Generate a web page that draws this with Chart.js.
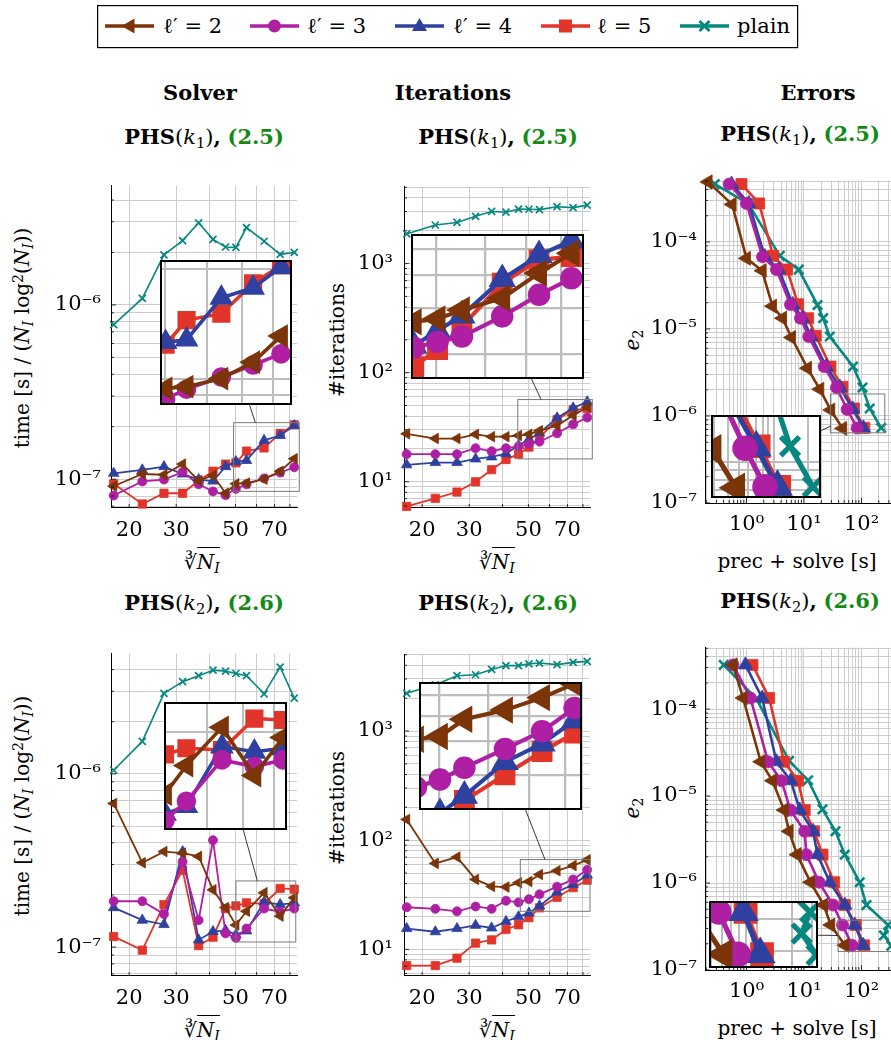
<!DOCTYPE html>
<html><head><meta charset="utf-8">
<script src="https://cdn.jsdelivr.net/npm/chart.js@4.4.1/dist/chart.umd.min.js"></script>
<style>
html,body{margin:0;padding:0;background:#fff;}
#fig{position:relative;width:891px;height:1040px;overflow:hidden;font-family:"DejaVu Serif",serif;color:#000;}
.t{position:absolute;white-space:nowrap;transform:translate(-50%,-50%);line-height:1;}
.hdr{font-weight:bold;font-size:21px;}
.ttl{font-size:21px;}
.g{color:#138a13;font-weight:bold;}
.ax{font-size:20px;}
.rot{transform:translate(-50%,-50%) rotate(-90deg);}
sub{font-size:0.7em;vertical-align:-0.3em;line-height:0;}
sup{font-size:0.7em;vertical-align:0.45em;line-height:0;}
.ovl{border-top:1.4px solid #000;padding-top:2px;}
canvas{position:absolute;}
canvas.inset{background:#fff;outline:2px solid #000;outline-offset:-1px;}
#legend{position:absolute;left:97px;top:5px;}
</style></head>
<body>
<div id="fig">
  <svg id="legend" width="702" height="44" xmlns="http://www.w3.org/2000/svg"></svg>

  <div class="t hdr" style="left:200px;top:92px">Solver</div>
  <div class="t hdr" style="left:453px;top:92px">Iterations</div>
  <div class="t hdr" style="left:818px;top:92px">Errors</div>

  <div class="t ttl" style="left:204px;top:137px"><b>PHS</b>(<i>k</i><sub>1</sub>)<b>,</b> <span class="g">(2.5)</span></div>
  <div class="t ttl" style="left:498px;top:137px"><b>PHS</b>(<i>k</i><sub>1</sub>)<b>,</b> <span class="g">(2.5)</span></div>
  <div class="t ttl" style="left:800px;top:134px"><b>PHS</b>(<i>k</i><sub>1</sub>)<b>,</b> <span class="g">(2.5)</span></div>
  <div class="t ttl" style="left:204px;top:603px"><b>PHS</b>(<i>k</i><sub>2</sub>)<b>,</b> <span class="g">(2.6)</span></div>
  <div class="t ttl" style="left:498px;top:603px"><b>PHS</b>(<i>k</i><sub>2</sub>)<b>,</b> <span class="g">(2.6)</span></div>
  <div class="t ttl" style="left:800px;top:601px"><b>PHS</b>(<i>k</i><sub>2</sub>)<b>,</b> <span class="g">(2.6)</span></div>

  <div class="t ax rot" style="left:22px;top:338px">time [s] / (<i>N</i><sub><i>I</i></sub> log<sup>2</sup>(<i>N</i><sub><i>I</i></sub>))</div>
  <div class="t ax rot" style="left:337px;top:340px">#iterations</div>
  <div class="t ax rot" style="left:632px;top:340px"><i>e</i><sub>2</sub></div>
  <div class="t ax rot" style="left:22px;top:806px">time [s] / (<i>N</i><sub><i>I</i></sub> log<sup>2</sup>(<i>N</i><sub><i>I</i></sub>))</div>
  <div class="t ax rot" style="left:337px;top:808px">#iterations</div>
  <div class="t ax rot" style="left:632px;top:808px"><i>e</i><sub>2</sub></div>

  <div class="t ax" style="left:202px;top:562px">∛<span class="ovl"><i>N</i><sub><i>I</i></sub></span></div>
  <div class="t ax" style="left:497px;top:562px">∛<span class="ovl"><i>N</i><sub><i>I</i></sub></span></div>
  <div class="t ax" style="left:797px;top:561px">prec + solve [s]</div>
  <div class="t ax" style="left:202px;top:1030px">∛<span class="ovl"><i>N</i><sub><i>I</i></sub></span></div>
  <div class="t ax" style="left:497px;top:1030px">∛<span class="ovl"><i>N</i><sub><i>I</i></sub></span></div>
  <div class="t ax" style="left:797px;top:1028px">prec + solve [s]</div>
</div>
<script>
// ================= DATA =================
const NI_CBRT = [17.5, 22.4, 27.0, 31.7, 36.4, 41.2, 45.9, 50.2, 55.0, 64.0, 73.5, 83.0];
const NI_TICKS = [20, 30, 40, 50, 60, 70, 80];
const NI_TICK_LABELS = ['20', '30', '', '50', '', '70', ''];

const SERIES_LABELS = ['ℓ′ = 2', 'ℓ′ = 3', 'ℓ′ = 4', 'ℓ = 5', 'plain'];

// Solver, PHS(k1)
const SOLVER_K1_L2    = [9.1e-8, 1.07e-7, 1.06e-7, 1.22e-7, 9.8e-8, 1.05e-7, 8.3e-8, 9.4e-8, 9.5e-8, 1.0e-7, 1.11e-7, 1.31e-7];
const SOLVER_K1_L3    = [8.05e-8, 9.7e-8, 9.95e-8, 1.10e-7, 9.35e-8, 8.5e-8, 8.1e-8, 8.8e-8, 9.35e-8, 1.01e-7, 1.09e-7, 1.17e-7];
const SOLVER_K1_L4    = [1.08e-7, 1.13e-7, 1.18e-7, 1.07e-7, 9.95e-8, 9.75e-8, 1.18e-7, 1.26e-7, 1.28e-7, 1.67e-7, 1.78e-7, 2.03e-7];
const SOLVER_K1_L5    = [9.4e-8, 7.2e-8, 8.3e-8, 8.3e-8, 9.8e-8, 1.11e-7, 1.22e-7, 1.24e-7, 1.45e-7, 1.51e-7, 1.83e-7, 2.05e-7];
const SOLVER_K1_PLAIN = [7.7e-7, 1.09e-6, 1.94e-6, 2.34e-6, 2.96e-6, 2.38e-6, 2.15e-6, 2.14e-6, 2.78e-6, 2.32e-6, 1.95e-6, 2.0e-6];

// Iterations, PHS(k1)
const ITER_K1_L2    = [27.5, 24.9, 24.9, 27.2, 25.9, 25.9, 26.5, 27.2, 29.4, 32.6, 40.6, 48.3];
const ITER_K1_L3    = [17.9, 17.9, 17.9, 20.3, 19.0, 20.3, 21.1, 22.2, 23.3, 27.8, 33.6, 38.8];
const ITER_K1_L4    = [14.3, 15.0, 15.0, 16.2, 16.9, 18.1, 21.5, 24.5, 28.0, 38.5, 47.5, 54.0];
const ITER_K1_L5    = [5.95, 7.05, 8.05, 10.0, 12.9, 16.0, 17.9, 20.8, 25.4, 37.2, 45.6, 46.9];
const ITER_K1_PLAIN = [1871, 2259, 2383, 2715, 3006, 2959, 3163, 3150, 3126, 3324, 3258, 3436];

// Errors, PHS(k1): x = prec + solve [s], y = e2
const ERR_K1_X_L2    = [0.215, 0.562, 1.0, 1.87, 2.83, 4.23, 6.06, 11.5, 18.8, 29.2, 47.0];
const ERR_K1_Y_L2    = [4.9e-4, 2.70e-4, 6.48e-5, 4.68e-5, 1.83e-5, 1.33e-5, 7.98e-6, 3.54e-6, 2.03e-6, 1.17e-6, 7.2e-7];
const ERR_K1_X_L3    = [0.499, 1.0, 1.90, 3.32, 5.82, 8.69, 12.1, 22.4, 36.7, 56.2, 84.0];
const ERR_K1_Y_L3    = [4.62e-4, 2.77e-4, 6.76e-5, 4.81e-5, 1.91e-5, 1.33e-5, 8.19e-6, 3.70e-6, 2.12e-6, 1.19e-6, 7.29e-7];
const ERR_K1_X_L4    = [0.55, 1.10, 2.08, 3.65, 6.38, 9.53, 13.3, 24.5, 42.2, 70.5, 108];
const ERR_K1_Y_L4    = [4.62e-4, 2.77e-4, 6.8e-5, 4.81e-5, 1.91e-5, 1.33e-5, 8.2e-6, 3.70e-6, 2.14e-6, 1.2e-6, 7.29e-7];
const ERR_K1_X_L5    = [0.818, 1.66, 2.90, 5.10, 7.90, 11.8, 16.0, 28.9, 46.7, 74.0, 112];
const ERR_K1_Y_L5    = [4.62e-4, 2.77e-4, 6.93e-5, 4.81e-5, 1.92e-5, 1.33e-5, 8.34e-6, 3.70e-6, 2.16e-6, 1.22e-6, 7.29e-7];
const ERR_K1_X_PLAIN = [0.281, 1.07, 3.80, 8.12, 17.2, 21.5, 28.1, 71.4, 104, 139, 220];
const ERR_K1_Y_PLAIN = [4.62e-4, 2.77e-4, 6.93e-5, 4.81e-5, 1.88e-5, 1.33e-5, 8.19e-6, 3.70e-6, 2.12e-6, 1.22e-6, 7.29e-7];

// Solver, PHS(k2)
const SOLVER_K2_L2    = [6.75e-7, 3.07e-7, 3.56e-7, 3.49e-7, 3.34e-7, 2.14e-7, 1.69e-7, 1.34e-7, 1.61e-7, 2.06e-7, 1.51e-7, 1.93e-7];
const SOLVER_K2_L3    = [1.84e-7, 1.84e-7, 1.55e-7, 3.11e-7, 1.43e-7, 4.14e-7, 1.20e-7, 1.13e-7, 1.28e-7, 1.67e-7, 1.60e-7, 1.67e-7];
const SOLVER_K2_L4    = [1.69e-7, 1.43e-7, 1.35e-7, 3.56e-7, 1.10e-7, 1.23e-7, 1.25e-7, 1.18e-7, 1.24e-7, 1.82e-7, 1.76e-7, 1.80e-7];
const SOLVER_K2_L5    = [1.15e-7, 9.6e-8, 1.76e-7, 2.78e-7, 1.02e-7, 1.14e-7, 1.67e-7, 1.73e-7, 1.80e-7, 1.78e-7, 2.18e-7, 2.16e-7];
const SOLVER_K2_PLAIN = [1.05e-6, 1.54e-6, 2.92e-6, 3.41e-6, 3.69e-6, 3.97e-6, 3.92e-6, 3.80e-6, 3.69e-6, 2.90e-6, 4.14e-6, 2.74e-6];

// Iterations, PHS(k2)
const ITER_K2_L2    = [155, 61.3, 70.0, 43.7, 37.7, 37.2, 40.8, 41.8, 48.5, 52.5, 58.5, 66.0];
const ITER_K2_L3    = [24.3, 23.5, 22.3, 24.7, 23.5, 27.9, 26.9, 28.8, 31.9, 37.5, 43.7, 53.5];
const ITER_K2_L4    = [15.5, 14.5, 15.5, 16.6, 15.7, 18.0, 19.9, 21.5, 25.0, 33.5, 39.3, 48.0];
const ITER_K2_L5    = [7.1, 7.1, 8.3, 11.4, 12.2, 15.2, 16.8, 19.5, 24.0, 30.0, 36.7, 43.0];
const ITER_K2_PLAIN = [2213, 2654, 3210, 3275, 3667, 3974, 3974, 4120, 4195, 4055, 4256, 4345];

// Errors, PHS(k2)
const ERR_K2_X_L2    = [0.585, 0.873, 1.77, 2.83, 4.51, 5.51, 7.59, 13.0, 22.1, 29.2, 51.3];
const ERR_K2_X_L3    = [0.585, 1.17, 2.38, 4.06, 5.82, 10.3, 11.0, 18.3, 32.1, 46.7, 68.7];
const ERR_K2_X_L4    = [0.96, 1.87, 3.32, 5.89, 8.45, 14.4, 17.2, 28.1, 51.3, 76.5, 107];
const ERR_K2_X_L5    = [1.27, 2.48, 4.51, 7.90, 10.3, 15.0, 21.0, 33.4, 51.3, 79.6, 111];
const ERR_K2_Y       = [3.22e-4, 1.34e-4, 2.48e-5, 1.50e-5, 6.9e-6, 3.93e-6, 2.12e-6, 1.02e-6, 5.58e-7, 3.29e-7, 1.92e-7];
const ERR_K2_X_PLAIN = [0.403, 1.49, 5.51, 11.8, 21.0, 35.3, 51.3, 93.3, 122, 290, 245, 330];
const ERR_K2_Y_PLAIN = [3.22e-4, 1.31e-4, 2.54e-5, 1.52e-5, 7.04e-6, 3.93e-6, 2.12e-6, 1.02e-6, 5.58e-7, 3.29e-7, 2.5e-7, 1.9e-7];

// ================= STYLE / LAYOUT =================
const COLORS = ['#7b3508', '#ae1fa3', '#2f41a0', '#e2352a', '#06877f'];
const STYLES = [
  {style:'triangle', rot:270, rf:1.35},
  {style:'circle',   rot:0,   rf:1.0},
  {style:'triangle', rot:0,   rf:1.35},
  {style:'rect',     rot:0,   rf:1.3},
  {style:'crossRot', rot:0,   rf:1.1}
];
const SIZE_LM = {r:4.5, lw:1.8, plw:1.6, cw:1.7};
const SIZE_R  = {r:6.0, lw:2.6, plw:2.6, cw:2.6};
const GRID = '#cdcdcd';
const Y_AXIS_W = 80, X_AXIS_H = 60, PAD = 10;
const TICK_FONT = {family:'DejaVu Serif', size:21};

const SUP = {'-':'⁻','0':'⁰','1':'¹','2':'²','3':'³','4':'⁴','5':'⁵','6':'⁶','7':'⁷','8':'⁸','9':'⁹'};
function isDecade(v){ const e = Math.log10(v); return Math.abs(e - Math.round(e)) < 1e-6; }
function decadeLabel(v){ if(!isDecade(v)) return ''; return '10' + String(Math.round(Math.log10(v))).split('').map(c=>SUP[c]).join(''); }
function logGrid(min, max){
  const out = [];
  for(let k = Math.floor(Math.log10(min)); k <= Math.ceil(Math.log10(max)); k++)
    for(let m = 1; m <= 9; m++){ const v = m * Math.pow(10, k); if(v >= min*0.99999 && v <= max*1.00001) out.push(v); }
  return out;
}

function makeDatasets(xs, ys, size, mag, clip){
  return ys.map((yArr, i) => {
    const st = STYLES[i], plain = (i === 4);
    return {
      label: SERIES_LABELS[i],
      data: xs[i].map((x, j) => ({x, y: yArr[j]})),
      borderColor: COLORS[i], backgroundColor: COLORS[i],
      pointBackgroundColor: COLORS[i], pointBorderColor: COLORS[i],
      pointStyle: st.style, pointRotation: st.rot,
      pointRadius: size.r * st.rf * mag, pointHoverRadius: size.r * st.rf * mag,
      pointBorderWidth: (plain ? size.cw : 0.8) * mag,
      borderWidth: (plain ? size.plw : size.lw) * mag,
      tension: 0, fill: false, clip: clip
    };
  });
}

const spyPlugin = {
  id: 'spy',
  afterDatasetsDraw(chart, args, o){
    if(!o || !o.box) return;
    const xs = chart.scales.x, ys = chart.scales.y, ctx = chart.ctx;
    const x0 = xs.getPixelForValue(o.box[0]), x1 = xs.getPixelForValue(o.box[1]);
    const y0 = ys.getPixelForValue(o.box[3]), y1 = ys.getPixelForValue(o.box[2]);
    ctx.save();
    ctx.strokeStyle = '#7a7a7a'; ctx.lineWidth = 1;
    ctx.strokeRect(x0, y0, x1 - x0, y1 - y0);
    const il = o.inset.left - o.cl, it = o.inset.top - o.ct;
    const c1 = [(x0 + x1) / 2, (y0 + y1) / 2], c2 = [il + o.inset.width / 2, it + o.inset.height / 2];
    ctx.beginPath();
    ctx.rect(-50, -50, chart.width + 100, chart.height + 100);
    ctx.rect(x0, y0, x1 - x0, y1 - y0);
    ctx.clip('evenodd');
    ctx.beginPath(); ctx.moveTo(c1[0], c1[1]); ctx.lineTo(c2[0], c2[1]);
    ctx.strokeStyle = '#222'; ctx.lineWidth = 0.9; ctx.stroke();
    ctx.restore();
  }
};
const tickMarkPlugin = {
  id: 'tickMarks',
  afterDraw(chart){
    const {ctx, chartArea:a} = chart; const xs = chart.scales.x, ys = chart.scales.y;
    ctx.save(); ctx.strokeStyle = '#000'; ctx.lineWidth = 0.8; ctx.beginPath();
    ys.ticks.forEach(t => { const p = ys.getPixelForValue(t.value); const L = isDecade(t.value) ? 5 : 3; ctx.moveTo(a.left, p); ctx.lineTo(a.left + L, p); });
    xs.ticks.forEach(t => { const p = xs.getPixelForValue(t.value); const L = isDecade(t.value) ? 5 : 3; ctx.moveTo(p, a.bottom); ctx.lineTo(p, a.bottom - L); });
    ctx.stroke(); ctx.restore();
  }
};

const fig = document.getElementById('fig');

function panel(p){
  const cw = Y_AXIS_W + p.area.W + PAD, ch = PAD + p.area.H + X_AXIS_H;
  const cl = p.area.L - Y_AXIS_W, ct = p.area.T - PAD;
  const c = document.createElement('canvas');
  c.width = cw; c.height = ch;
  c.style.left = cl + 'px'; c.style.top = ct + 'px'; c.style.width = cw + 'px'; c.style.height = ch + 'px';
  fig.appendChild(c);
  const yTickVals = logGrid(p.yr[0], p.yr[1]);
  const xTickVals = p.xTicks ? p.xTicks : logGrid(p.xr[0], p.xr[1]);
  const xLabel = p.xTicks ? ((v, i) => p.xLabels[i]) : (v => decadeLabel(v));
  new Chart(c, {
    type: 'line',
    data: {datasets: makeDatasets(p.xs, p.ys, p.size, 1, 7)},
    plugins: [spyPlugin, tickMarkPlugin],
    options: {
      responsive: false, animation: false, devicePixelRatio: 1, events: [],
      layout: {autoPadding: false, padding: {top: PAD, right: PAD, left: 0, bottom: 0}},
      plugins: {legend: {display: false}, tooltip: {enabled: false},
        spy: {box: p.spy, inset: p.inset, cl: cl, ct: ct}},
      scales: {
        x: {type: 'logarithmic', min: p.xr[0], max: p.xr[1], bounds: 'data', position: 'bottom',
          afterBuildTicks: s => { s.ticks = xTickVals.map(v => ({value: v})); },
          afterFit: s => { s.height = X_AXIS_H; },
          ticks: {autoSkip: false, maxRotation: 0, minRotation: 0, padding: p.xPad, color: '#000', font: TICK_FONT, callback: xLabel},
          grid: {color: GRID, lineWidth: 1, drawTicks: false},
          border: {display: true, color: '#000', width: 1}},
        y: {type: 'logarithmic', min: p.yr[0], max: p.yr[1], bounds: 'data', position: 'left',
          afterBuildTicks: s => { s.ticks = yTickVals.map(v => ({value: v})); },
          afterFit: s => { s.width = Y_AXIS_W; },
          ticks: {autoSkip: false, padding: p.yPad, color: '#000', font: TICK_FONT, callback: v => decadeLabel(v)},
          grid: {color: GRID, lineWidth: 1, drawTicks: false},
          border: {display: true, color: '#000', width: 1}}
      }
    }
  });
  // magnified inset of the spy region
  const ins = document.createElement('canvas'); const I = p.inset;
  ins.className = 'inset'; ins.width = I.width; ins.height = I.height;
  ins.style.left = I.left + 'px'; ins.style.top = I.top + 'px'; ins.style.width = I.width + 'px'; ins.style.height = I.height + 'px';
  fig.appendChild(ins);
  const ixT = p.xTicks ? p.xTicks : logGrid(p.spy[0] / 10, p.spy[1] * 10);
  const iyT = logGrid(p.spy[2] / 10, p.spy[3] * 10);
  new Chart(ins, {
    type: 'line',
    data: {datasets: makeDatasets(p.xs, p.ys, p.size, p.mag, false)},
    options: {
      responsive: false, animation: false, devicePixelRatio: 1, events: [],
      layout: {autoPadding: false, padding: 0},
      plugins: {legend: {display: false}, tooltip: {enabled: false}},
      scales: {
        x: {type: 'logarithmic', min: p.spy[0], max: p.spy[1], bounds: 'data',
          afterBuildTicks: s => { s.ticks = ixT.map(v => ({value: v})); },
          afterFit: s => { s.height = 0; },
          ticks: {display: false, autoSkip: false},
          grid: {color: '#bdbdbd', lineWidth: p.mag, drawTicks: false}, border: {display: false}},
        y: {type: 'logarithmic', min: p.spy[2], max: p.spy[3], bounds: 'data',
          afterBuildTicks: s => { s.ticks = iyT.map(v => ({value: v})); },
          afterFit: s => { s.width = 0; },
          ticks: {display: false, autoSkip: false},
          grid: {color: '#bdbdbd', lineWidth: p.mag, drawTicks: false}, border: {display: false}}
      }
    }
  });
}

const NI5 = [NI_CBRT, NI_CBRT, NI_CBRT, NI_CBRT, NI_CBRT];
const NI_RANGE = [17.1, 85.0];
const ERR_X_RANGE = [0.19, 326];

panel({area:{L:111,T:173,W:186,H:334}, xr:NI_RANGE, yr:[6.92e-8, 4.84e-6], xTicks:NI_TICKS, xLabels:NI_TICK_LABELS,
  xs:NI5, ys:[SOLVER_K1_L2, SOLVER_K1_L3, SOLVER_K1_L4, SOLVER_K1_L5, SOLVER_K1_PLAIN], size:SIZE_LM, yPad:10, xPad:11,
  spy:[49.2, 86.7, 8.51e-8, 2.11e-7], inset:{left:161, top:261, width:130, height:143}, mag:2});
panel({area:{L:404,T:173,W:186,H:334}, xr:NI_RANGE, yr:[5.87, 5080], xTicks:NI_TICKS, xLabels:NI_TICK_LABELS,
  xs:NI5, ys:[ITER_K1_L2, ITER_K1_L3, ITER_K1_L4, ITER_K1_L5, ITER_K1_PLAIN], size:SIZE_LM, yPad:11, xPad:11,
  spy:[45.6, 86.7, 16.2, 56.7], inset:{left:412, top:235, width:171, height:143}, mag:2.3});
panel({area:{L:705,T:170,W:186,H:333}, xr:ERR_X_RANGE, yr:[1e-7, 5.07e-4], xTicks:null,
  xs:[ERR_K1_X_L2, ERR_K1_X_L3, ERR_K1_X_L4, ERR_K1_X_L5, ERR_K1_X_PLAIN],
  ys:[ERR_K1_Y_L2, ERR_K1_Y_L3, ERR_K1_Y_L4, ERR_K1_Y_L5, ERR_K1_Y_PLAIN], size:SIZE_R, yPad:8, xPad:9,
  spy:[28.9, 254, 6.41e-7, 1.79e-6], inset:{left:712, top:416, width:108, height:81}, mag:2});
panel({area:{L:111,T:641,W:186,H:334}, xr:NI_RANGE, yr:[6.9e-8, 4.95e-6], xTicks:NI_TICKS, xLabels:NI_TICK_LABELS,
  xs:NI5, ys:[SOLVER_K2_L2, SOLVER_K2_L3, SOLVER_K2_L4, SOLVER_K2_L5, SOLVER_K2_PLAIN], size:SIZE_LM, yPad:10, xPad:11,
  spy:[50.2, 84.1, 1.07e-7, 2.41e-7], inset:{left:165, top:703, width:121, height:126}, mag:2});
panel({area:{L:404,T:641,W:186,H:334}, xr:NI_RANGE, yr:[5.82, 5012], xTicks:NI_TICKS, xLabels:NI_TICK_LABELS,
  xs:NI5, ys:[ITER_K2_L2, ITER_K2_L3, ITER_K2_L4, ITER_K2_L5, ITER_K2_PLAIN], size:SIZE_LM, yPad:11, xPad:11,
  spy:[46.6, 85.0, 22.3, 66.4], inset:{left:420, top:683, width:161, height:126}, mag:2.3});
panel({area:{L:705,T:637,W:186,H:333}, xr:ERR_X_RANGE, yr:[1e-7, 5.09e-4], xTicks:null,
  xs:[ERR_K2_X_L2, ERR_K2_X_L3, ERR_K2_X_L4, ERR_K2_X_L5, ERR_K2_X_PLAIN],
  ys:[ERR_K2_Y, ERR_K2_Y, ERR_K2_Y, ERR_K2_Y, ERR_K2_Y_PLAIN], size:SIZE_R, yPad:8, xPad:9,
  spy:[39.2, 333, 1.63e-7, 3.74e-7], inset:{left:710, top:902, width:107, height:65}, mag:2});

// ================= LEGEND =================
(function(){
  const svg = document.getElementById('legend');
  const lineX = [8, 153, 298, 444, 583], textX = [66, 210, 356, 500, 640];
  let html = '<rect x="0.6" y="0.6" width="700" height="42" fill="#fff" stroke="#000" stroke-width="1.2"/>';
  const cy = 21;
  for(let i = 0; i < 5; i++){
    const x0 = lineX[i], x1 = x0 + 49, cx = (x0 + x1) / 2, c = COLORS[i];
    html += `<line x1="${x0}" y1="${cy}" x2="${x1}" y2="${cy}" stroke="${c}" stroke-width="3.5"/>`;
    if(i === 0) html += `<polygon points="${cx-8},${cy} ${cx+5},${cy-7.5} ${cx+5},${cy+7.5}" fill="${c}"/>`;
    if(i === 1) html += `<circle cx="${cx}" cy="${cy}" r="6.5" fill="${c}"/>`;
    if(i === 2) html += `<polygon points="${cx},${cy-8} ${cx-7.5},${cy+5} ${cx+7.5},${cy+5}" fill="${c}"/>`;
    if(i === 3) html += `<rect x="${cx-6.5}" y="${cy-6.5}" width="13" height="13" fill="${c}"/>`;
    if(i === 4) html += `<path d="M${cx-5},${cy-5}L${cx+5},${cy+5}M${cx-5},${cy+5}L${cx+5},${cy-5}" stroke="${c}" stroke-width="3"/>`;
    html += `<text x="${textX[i]}" y="${cy+7}" font-family="DejaVu Serif" font-size="21" fill="#000">${SERIES_LABELS[i]}</text>`;
  }
  svg.innerHTML = html;
})();
</script>
</body></html>
